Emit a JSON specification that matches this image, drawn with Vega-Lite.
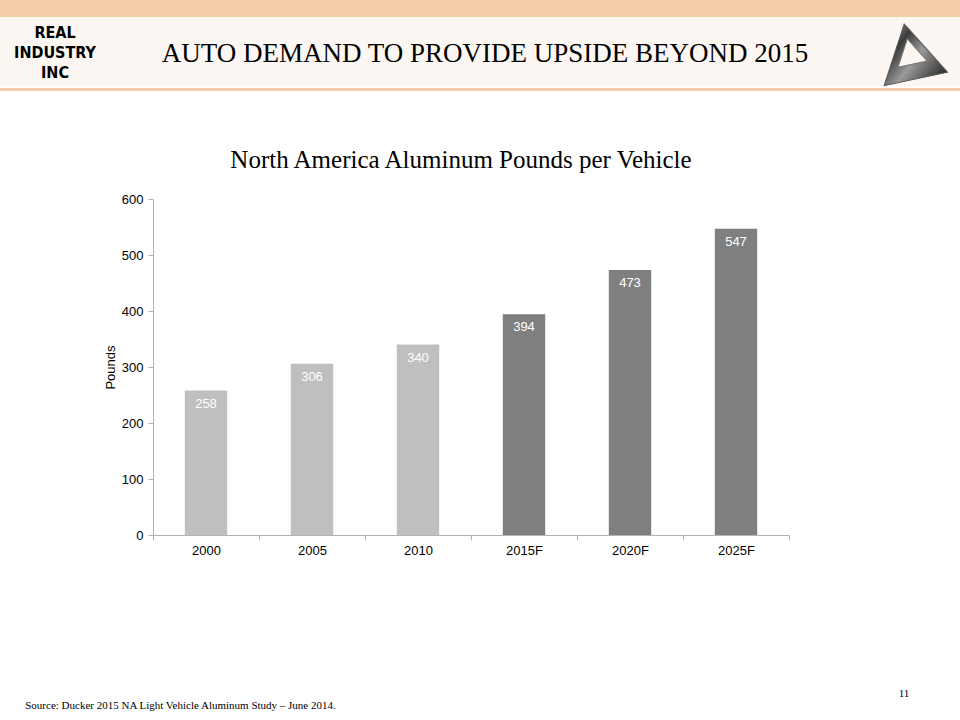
{
  "$schema": "https://vega.github.io/schema/vega-lite/v6.json",
  "padding": 0,
  "background": "white",
  "config": {"view": {"stroke": null}, "font": "Liberation Sans"},
  "datasets": {
    "pounds": [
      {"year": "2000", "pounds": 258, "kind": "Actual"},
      {"year": "2005", "pounds": 306, "kind": "Actual"},
      {"year": "2010", "pounds": 340, "kind": "Actual"},
      {"year": "2015F", "pounds": 394, "kind": "Forecast"},
      {"year": "2020F", "pounds": 473, "kind": "Forecast"},
      {"year": "2025F", "pounds": 547, "kind": "Forecast"}
    ],
    "texts": [
      {"part": "logo", "label": "REAL\nINDUSTRY\nINC"},
      {"part": "title", "label": "AUTO DEMAND TO PROVIDE UPSIDE BEYOND 2015"},
      {"part": "source", "label": "Source: Ducker 2015 NA Light Vehicle Aluminum Study – June 2014."},
      {"part": "page", "label": "11"}
    ]
  },
  "spacing": 57,
  "vconcat": [
    {
      "spacing": 0,
      "vconcat": [
        {
          "width": 960, "height": 17,
          "view": {"fill": "#f4cda9", "stroke": null},
          "data": {"name": "texts"},
          "transform": [{"filter": "datum.part === 'page'"}],
          "mark": {"type": "rect", "fill": "#f4cda9"},
          "encoding": {}
        },
        {
          "spacing": 0,
          "hconcat": [
            {
              "width": 110, "height": 69,
              "view": {"fill": "#fcf7f2", "stroke": null},
              "data": {"name": "texts"},
              "transform": [{"filter": "datum.part === 'logo'"}],
              "mark": {"type": "text", "font": "Liberation Sans Narrow, DejaVu Sans Condensed, Liberation Sans, sans-serif", "fontWeight": "bold", "fontSize": 16, "lineBreak": "\n", "lineHeight": 20, "dy": -19, "color": "#000000"},
              "encoding": {"text": {"field": "label"}}
            },
            {
              "width": 750, "height": 69,
              "view": {"fill": "#fcf7f2", "stroke": null},
              "data": {"name": "texts"},
              "transform": [{"filter": "datum.part === 'title'"}],
              "mark": {"type": "text", "font": "Liberation Serif", "fontSize": 27, "dy": 2, "color": "#000000"},
              "encoding": {"text": {"field": "label"}}
            },
            {
              "width": 100, "height": 69,
              "view": {"fill": "#fcf7f2", "stroke": null},
              "data": {"name": "texts"},
              "transform": [{"filter": "datum.part === 'page'"}],
              "layer": [
                {
                  "mark": {"type": "point", "shape": "triangle-up", "size": 4200, "angle": -12, "filled": true, "opacity": 1,
                    "fill": {"gradient": "linear", "x1": 0, "y1": 0, "x2": 1, "y2": 1, "stops": [{"offset": 0, "color": "#e8e8e8"}, {"offset": 0.35, "color": "#3a3a3a"}, {"offset": 0.6, "color": "#9a9a9a"}, {"offset": 1, "color": "#2a2a2a"}]},
                    "stroke": "#555555", "strokeWidth": 1},
                  "encoding": {}
                },
                {
                  "mark": {"type": "point", "shape": "triangle-up", "size": 900, "angle": -12, "filled": true, "opacity": 1, "fill": "#fcf7f2", "stroke": "#777777", "strokeWidth": 1},
                  "encoding": {}
                }
              ]
            }
          ]
        },
        {
          "width": 960, "height": 3,
          "view": {"fill": "#f4cda9", "stroke": null},
          "data": {"name": "texts"},
          "transform": [{"filter": "datum.part === 'page'"}],
          "mark": {"type": "rect", "fill": "#f4cda9"},
          "encoding": {}
        }
      ]
    },
    {
      "spacing": 123,
      "vconcat": [
        {
          "width": 960, "height": 336,
          "data": {"name": "pounds"},
          "title": {"text": "North America Aluminum Pounds per Vehicle", "font": "Liberation Serif", "fontSize": 25, "fontWeight": "normal", "color": "#000000", "offset": 20, "dx": -19, "anchor": "middle"},
          "encoding": {
            "x": {
              "field": "year", "type": "nominal", "sort": null,
              "scale": {"range": [153, 789], "paddingInner": 0, "paddingOuter": 0},
              "axis": {"title": null, "labelAngle": 0, "tickBand": "extent", "domainColor": "#b3b3b3", "tickColor": "#b3b3b3", "tickSize": 5, "labelFontSize": 13, "labelColor": "#000000", "labelPadding": 4, "labelFont": "Liberation Sans"}
            },
            "y": {
              "field": "pounds", "type": "quantitative",
              "scale": {"domain": [0, 600]},
              "axis": {"title": "Pounds", "offset": -153, "values": [0, 100, 200, 300, 400, 500, 600], "grid": false, "domainColor": "#b3b3b3", "tickColor": "#b3b3b3", "tickSize": 5, "labelFontSize": 13, "labelColor": "#000000", "labelPadding": 5, "labelFont": "Liberation Sans", "titleFont": "Liberation Sans", "titleFontSize": 13, "titleFontWeight": "normal", "titleColor": "#000000", "titlePadding": 4}
            }
          },
          "layer": [
            {
              "mark": {"type": "bar", "width": {"band": 0.4}},
              "encoding": {"color": {"field": "kind", "type": "nominal", "scale": {"range": ["#bfbfbf", "#7f7f7f"]}, "legend": null}}
            },
            {
              "mark": {"type": "text", "baseline": "top", "dy": 7, "color": "#ffffff", "fontSize": 13, "font": "Liberation Sans"},
              "encoding": {"text": {"field": "pounds", "type": "quantitative"}}
            }
          ]
        },
        {
          "spacing": 500,
          "hconcat": [
            {
              "width": 361, "height": 40,
              "data": {"name": "texts"},
              "transform": [{"filter": "datum.part === 'source'"}],
              "mark": {"type": "text", "baseline": "top", "font": "Liberation Serif", "fontSize": 11, "color": "#000000"},
              "encoding": {"text": {"field": "label"}}
            },
            {
              "width": 86, "height": 16,
              "data": {"name": "texts"},
              "transform": [{"filter": "datum.part === 'page'"}],
              "mark": {"type": "text", "baseline": "top", "font": "Liberation Serif", "fontSize": 11, "color": "#000000"},
              "encoding": {"text": {"field": "label"}}
            }
          ]
        }
      ]
    }
  ]
}
